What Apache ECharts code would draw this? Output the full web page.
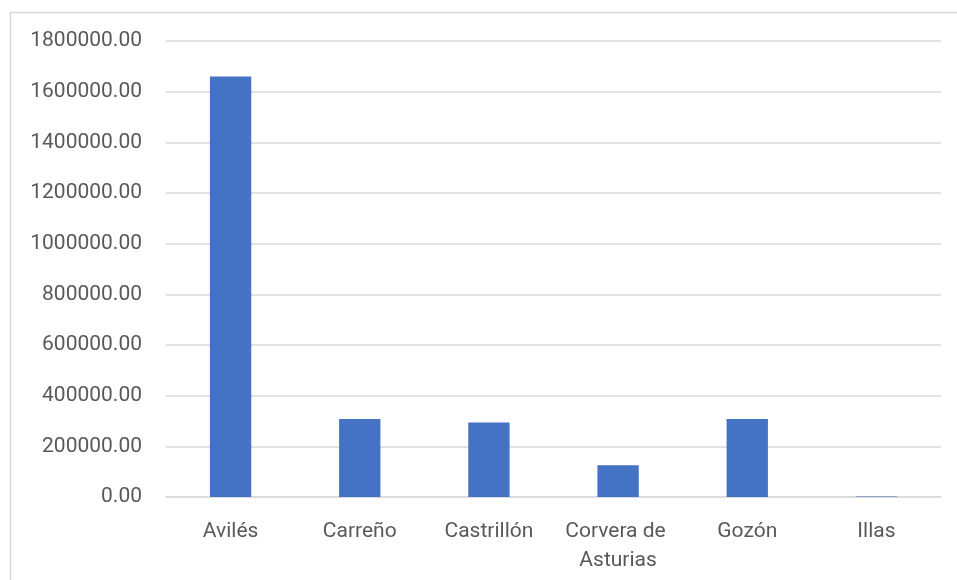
<!DOCTYPE html>
<html>
<head>
<meta charset="utf-8">
<script src="https://cdn.jsdelivr.net/npm/echarts@6/dist/echarts.min.js"></script>
<style>
html,body{margin:0;padding:0;background:#fff;}
#chart{width:957px;height:580px;}
</style>
</head>
<body>
<div id="chart"></div>
<script>
var categories = ['Avilés', 'Carreño', 'Castrillón', 'Corvera de Asturias', 'Gozón', 'Illas'];
var values = [1660000, 308000, 294000, 125000, 308000, 1500];
var yTicks = [0, 200000, 400000, 600000, 800000, 1000000, 1200000, 1400000, 1600000, 1800000];

var chart = echarts.init(document.getElementById('chart'), null, {renderer: 'canvas'});
var font = 'Roboto';
chart.setOption({
  animation: false,
  backgroundColor: '#ffffff',
  graphic: [{
    type: 'rect',
    shape: {x: 10.5, y: 12.5, width: 1000, height: 700},
    style: {fill: 'none', stroke: '#d9d9d9', lineWidth: 1.5},
    silent: true
  }],
  grid: {left: 166, right: 16, top: 41, bottom: 83, containLabel: false},
  xAxis: {
    type: 'category',
    data: categories,
    axisLine: {show: true, lineStyle: {color: '#d9d9d9', width: 1.5}},
    axisTick: {show: false},
    axisLabel: {
      color: '#595959',
      fontFamily: font,
      fontSize: 21,
      margin: 20,
      lineHeight: 29,
      width: 122,
      overflow: 'break',
      interval: 0
    }
  },
  yAxis: {
    type: 'value',
    min: yTicks[0],
    max: yTicks[yTicks.length - 1],
    interval: yTicks[1] - yTicks[0],
    axisLine: {show: false},
    axisTick: {show: false},
    splitLine: {lineStyle: {color: '#d9d9d9', width: 1.5}},
    axisLabel: {
      color: '#595959',
      fontFamily: font,
      fontSize: 21,
      margin: 24,
      formatter: function (v) { return v.toFixed(2); }
    }
  },
  series: [{
    type: 'bar',
    data: values,
    barWidth: '32%',
    itemStyle: {color: '#4472C4'}
  }]
});
</script>
</body>
</html>
